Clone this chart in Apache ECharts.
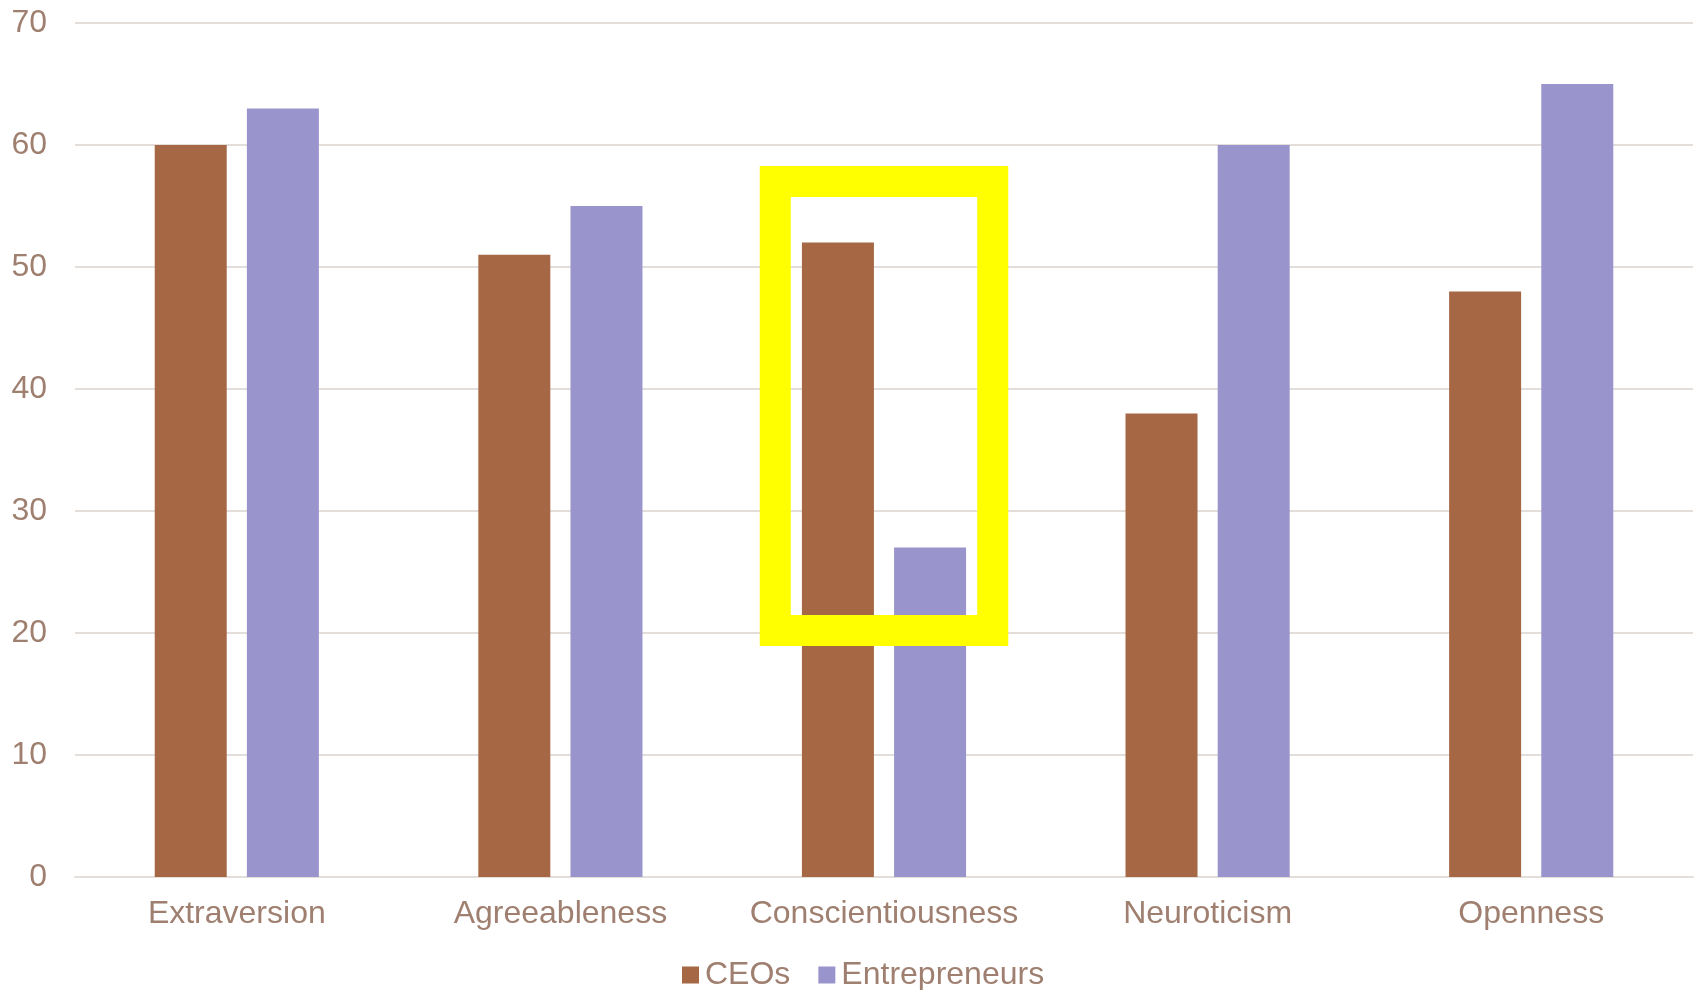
<!DOCTYPE html>
<html>
<head>
<meta charset="utf-8">
<title>CEOs vs Entrepreneurs</title>
<script src="https://cdn.jsdelivr.net/npm/echarts@6/dist/echarts.min.js"></script>
<style>
  html, body { margin: 0; padding: 0; background: #fff; }
  #main { width: 1698px; height: 990px; }
</style>
</head>
<body>
<div id="main"></div>
<script>
var traits = ['Extraversion', 'Agreeableness', 'Conscientiousness', 'Neuroticism', 'Openness'];
var ceos = [60, 51, 52, 38, 48];
var entrepreneurs = [63, 55, 27, 60, 65];
var yTicks = [0, 10, 20, 30, 40, 50, 60, 70];

// highlight box around one category (value range the box spans)
var highlightTrait = 'Conscientiousness';
var highlightRange = [20.2, 57];

var textColor = '#9f7f6f';
var font = '"Liberation Sans", Arial, sans-serif';

var chart = echarts.init(document.getElementById('main'));

var option = {
  animation: false,
  grid: {
    left: 75,
    right: 5,
    top: 23,
    bottom: 113
  },
  legend: {
    left: 677,
    top: 954,
    itemWidth: 17,
    itemHeight: 17,
    itemGap: 28,
    textStyle: { color: textColor, fontSize: 32, fontFamily: font, padding: [0, 0, 0, 1] },
    data: [
      { name: 'CEOs', icon: 'rect' },
      { name: 'Entrepreneurs', icon: 'rect' }
    ]
  },
  xAxis: {
    type: 'category',
    data: traits,
    axisLine: { lineStyle: { color: '#e4deda', width: 2 } },
    axisTick: { show: false },
    axisLabel: { interval: 0, color: textColor, fontSize: 32, fontFamily: font, margin: 21 }
  },
  yAxis: {
    type: 'value',
    min: yTicks[0],
    max: yTicks[yTicks.length - 1],
    interval: 10,
    axisLine: { show: false },
    axisTick: { show: false },
    splitLine: { lineStyle: { color: '#e4deda', width: 2 } },
    axisLabel: { color: textColor, fontSize: 32, fontFamily: font, margin: 28 }
  },
  series: [
    {
      name: 'CEOs',
      type: 'bar',
      data: ceos,
      barWidth: 72,
      barGap: '28%',
      itemStyle: { color: '#a56744' }
    },
    {
      name: 'Entrepreneurs',
      type: 'bar',
      data: entrepreneurs,
      barWidth: 72,
      itemStyle: { color: '#9a94cc' }
    }
  ]
};
chart.setOption(option);

// yellow highlight rectangle, placed from the axes
var idx = traits.indexOf(highlightTrait);
var pTop = chart.convertToPixel({ gridIndex: 0 }, [idx, highlightRange[1]]);
var pBot = chart.convertToPixel({ gridIndex: 0 }, [idx, highlightRange[0]]);
var catW = chart.convertToPixel({ xAxisIndex: 0 }, traits[1]) - chart.convertToPixel({ xAxisIndex: 0 }, traits[0]);
var halfW = catW * 0.336;

chart.setOption({
  graphic: [{
    type: 'rect',
    z: 100,
    shape: {
      x: pTop[0] - halfW,
      y: pTop[1],
      width: halfW * 2,
      height: pBot[1] - pTop[1]
    },
    style: { fill: 'none', stroke: '#ffff00', lineWidth: 31 }
  }]
});
</script>
</body>
</html>
